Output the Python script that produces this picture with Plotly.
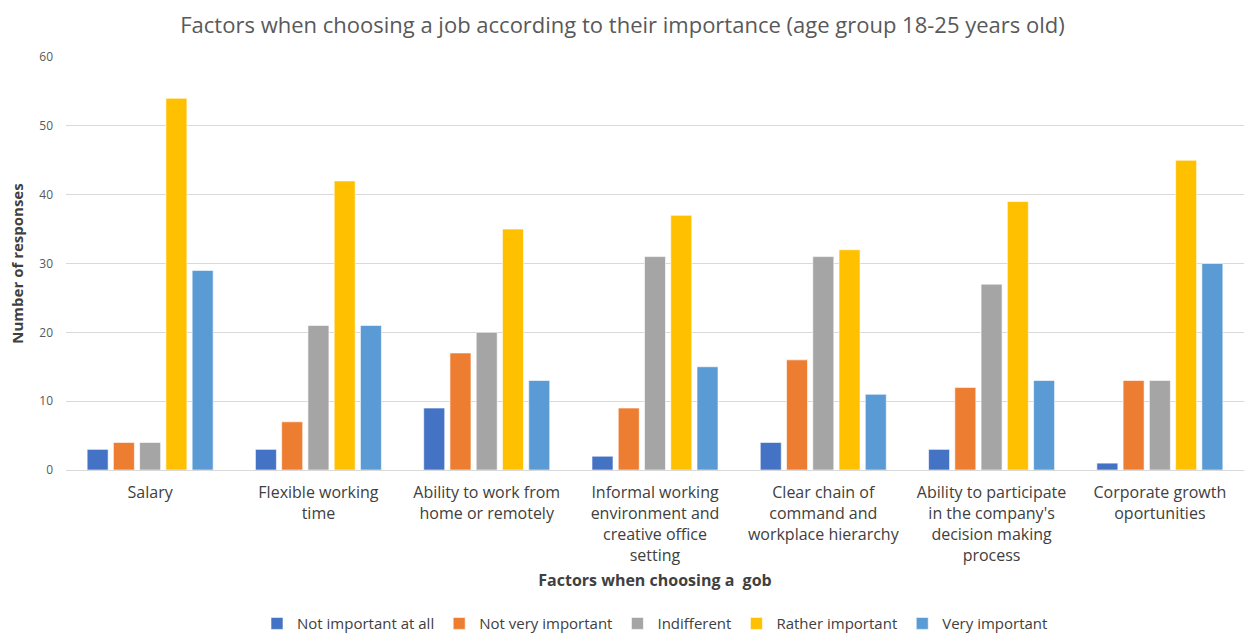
import plotly.graph_objects as go

categories = [
    "Salary",
    "Flexible working<br>time",
    "Ability to work from<br>home or remotely",
    "Informal working<br>environment and<br>creative office<br>setting",
    "Clear chain of<br>command and<br>workplace hierarchy",
    "Ability to participate<br>in the company's<br>decision making<br>process",
    "Corporate growth<br>oportunities",
]

series_names = [
    "Not important at all",
    "Not very important",
    "Indifferent",
    "Rather important",
    "Very important",
]

not_important_at_all = [3, 3, 9, 2, 4, 3, 1]
not_very_important = [4, 7, 17, 9, 16, 12, 13]
indifferent = [4, 21, 20, 31, 31, 27, 13]
rather_important = [54, 42, 35, 37, 32, 39, 45]
very_important = [29, 21, 13, 15, 11, 13, 30]

series_values = [
    not_important_at_all,
    not_very_important,
    indifferent,
    rather_important,
    very_important,
]

colors = ["#4472C4", "#ED7D31", "#A5A5A5", "#FFC000", "#5B9BD5"]

fig = go.Figure()
for name, vals, col in zip(series_names, series_values, colors):
    fig.add_trace(go.Bar(
        x=categories, y=vals, name=name,
        marker=dict(color=col, line=dict(color="rgba(255,255,255,0.6)", width=1)),
    ))

font_family = "Open Sans, sans-serif"

fig.update_layout(
    width=1245, height=637,
    margin=dict(l=66, r=1, t=57, b=167, autoexpand=False),
    paper_bgcolor="white", plot_bgcolor="white",
    barmode="group", bargap=0.22, bargroupgap=0.2,
    font=dict(family=font_family, color="#595959"),
    title=dict(
        text="Factors when choosing a job according to their importance (age group 18-25 years old)",
        x=0.5, xanchor="center", y=0.96, yanchor="middle",
        font=dict(size=22, color="#595959", family=font_family),
    ),
    yaxis=dict(
        range=[0, 60], dtick=10, automargin=False,
        showgrid=True, gridcolor="#D9D9D9", gridwidth=1,
        zeroline=False, showline=False,
        tickfont=dict(size=12, color="#595959"),
        ticks="", ticklabelstandoff=12,
        title=dict(text="<b>Number of responses</b>", font=dict(size=15, color="#404040"), standoff=12),
    ),
    xaxis=dict(
        showline=True, linecolor="#D9D9D9", linewidth=1, automargin=False,
        ticks="", tickangle=0, ticklabelstandoff=8,
        tickfont=dict(size=16, color="#404040"),
        title=dict(text="<b>Factors when choosing a  gob</b>", font=dict(size=16, color="#404040"), standoff=10),
    ),
    legend=dict(
        orientation="h", x=0.5, xanchor="center", y=-0.372, yanchor="middle",
        font=dict(size=15, color="#404040"),
        itemwidth=30, traceorder="normal",
        entrywidth=0, tracegroupgap=0,
    ),
)

fig.write_html("out.html")
